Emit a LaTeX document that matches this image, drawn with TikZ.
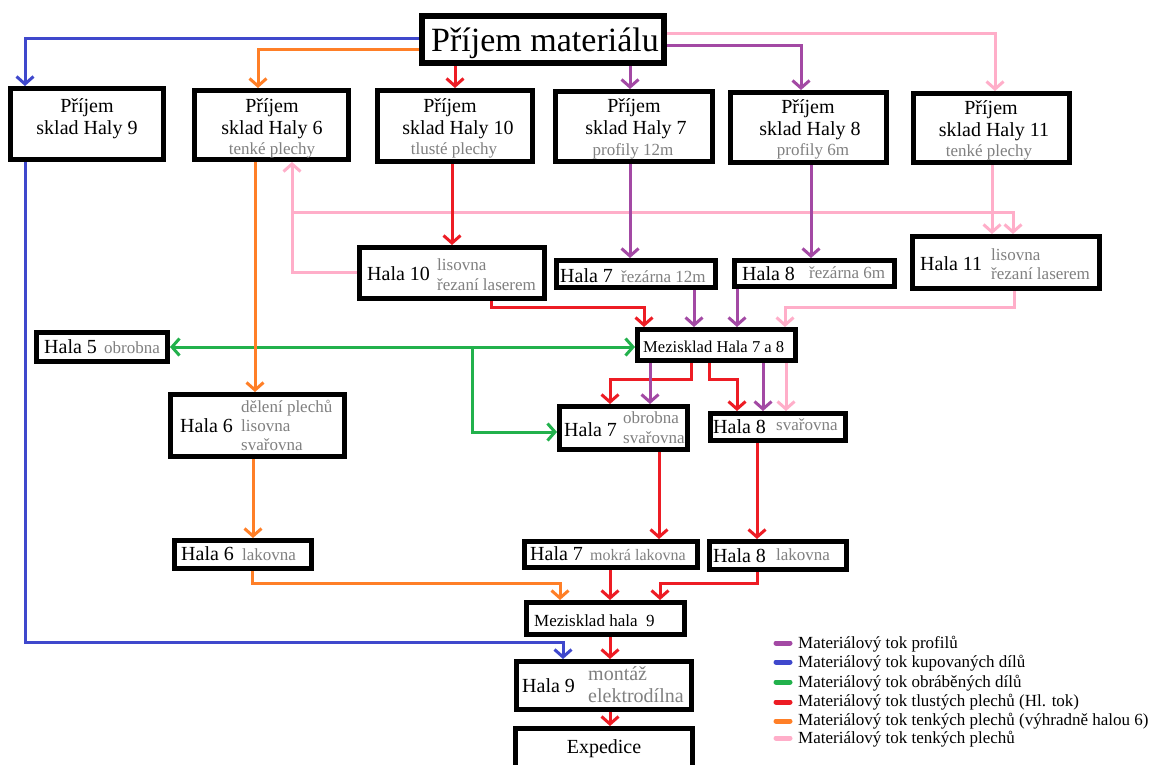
\documentclass[tikz,border=0pt]{standalone}
\usepackage{fontspec}
\setmainfont{Liberation Serif}
\usetikzlibrary{arrows.meta}

\definecolor{cblue}{RGB}{63,72,204}
\definecolor{corange}{RGB}{255,127,39}
\definecolor{cred}{RGB}{237,28,36}
\definecolor{cpurple}{RGB}{163,73,164}
\definecolor{cpink}{RGB}{255,174,201}
\definecolor{cgreen}{RGB}{34,177,76}
\definecolor{subgray}{RGB}{128,128,128}

\tikzset{
  hall/.style={draw=black, fill=white, line width=5pt, inner sep=0pt},
  maintxt/.style={inner sep=0pt, anchor=base west, font=\fontsize{20}{24}\selectfont},
  maincen/.style={maintxt, anchor=base},
  subtxt/.style={inner sep=0pt, anchor=base west, text=subgray, font=\fontsize{17}{20}\selectfont},
  subcen/.style={subtxt, anchor=base},
  midtxt/.style={inner sep=0pt, anchor=base west, font=\fontsize{16.6}{19}\selectfont},
  legtxt/.style={inner sep=0pt, anchor=base west, font=\fontsize{17}{20}\selectfont},
  flow/.style={line width=3pt, -{Straight Barb[length=7.5pt,width=17pt]}},
  legline/.style={line width=5pt, line cap=round},
}

% box given by outer edges: name, left, top, right, bottom
\newcommand\hallbox[5]{%
  \node[hall, minimum width={#4-#2-5}, minimum height={#5-#3-5}] (#1)
    at ({(#2+#4)/2},{(#3+#5)/2}) {};}

\begin{document}
\begin{tikzpicture}[x=1pt, y=-1pt]
\useasboundingbox (0,0) rectangle (1158,764);
\clip (0,0) rectangle (1158,764);
\fill[white] (0,0) rectangle (1158,764);

% ---------- boxes ----------
\node[hall, line width=6pt, minimum width=242pt, minimum height=47pt] (title) at (543,39.5) {};
\hallbox{haly9}{8}{86}{166}{162}
\hallbox{haly6}{192}{88}{351}{162}
\hallbox{haly10}{375}{88}{535}{164}
\hallbox{haly7}{553}{89}{715}{164}
\hallbox{haly8}{728}{90}{889}{165}
\hallbox{haly11}{911}{91}{1072}{165}

\hallbox{hala10}{357}{245}{547}{301}
\hallbox{hala7r}{554}{258}{718}{290}
\hallbox{hala8r}{732}{258}{897}{289}
\hallbox{hala11}{910}{234}{1102}{291}

\hallbox{mez78}{635}{327}{798}{363}
\hallbox{hala5}{34}{330}{170}{364}

\hallbox{hala6}{168}{392}{347}{459}
\hallbox{hala7o}{557}{404}{690}{452}
\hallbox{hala8s}{708}{411}{848}{443}

\hallbox{hala6l}{172}{538}{314}{571}
\hallbox{hala7l}{522}{539}{700}{570}
\hallbox{hala8l}{707}{539}{849}{572}

\hallbox{mez9}{524}{600}{687}{637}
\hallbox{hala9}{514}{659}{694}{712}
\hallbox{exped}{513}{726}{695}{790}

% ---------- texts ----------
\node[inner sep=0pt, anchor=base, font=\fontsize{34}{40}\selectfont] (ttl) at (545,51) {Příjem materiálu};

\node[maincen] (h9a) at (87,112) {Příjem};
\node[maincen] (h9b) at (87,134) {sklad Haly 9};

\node[maincen] (h6a) at (272,112) {Příjem};
\node[maincen] (h6b) at (272,134) {sklad Haly 6};
\node[subcen] (h6c) at (272,154) {tenké plechy};

\node[maincen] (h10a) at (450,112) {Příjem};
\node[maincen] (h10b) at (458,134) {sklad Haly 10};
\node[subcen] (h10c) at (454,154) {tlusté plechy};

\node[maincen] (h7a) at (634,112) {Příjem};
\node[maincen] (h7b) at (636,134) {sklad Haly 7};
\node[subcen] (h7c) at (633,155) {profily 12m};

\node[maincen] (h8a) at (808,113) {Příjem};
\node[maincen] (h8b) at (810,135) {sklad Haly 8};
\node[subcen] (h8c) at (813,155) {profily 6m};

\node[maincen] (h11a) at (991,114) {Příjem};
\node[maincen] (h11b) at (994,136) {sklad Haly 11};
\node[subcen] (h11c) at (989,156) {tenké plechy};

\node[maintxt] (l10a) at (367,280) {Hala 10};
\node[subtxt] (l10b) at (437,270) {lisovna};
\node[subtxt] (l10c) at (437,290) {řezaní laserem};

\node[maintxt] (l7ra) at (560,282) {Hala 7};
\node[subtxt] (l7rb) at (621,282) {řezárna 12m};

\node[maintxt] (l8ra) at (742,280) {Hala 8};
\node[subtxt] (l8rb) at (809,278) {řezárna 6m};

\node[maintxt] (l11a) at (920,270) {Hala 11};
\node[subtxt] (l11b) at (991,260) {lisovna};
\node[subtxt] (l11c) at (991,279) {řezaní laserem};

\node[midtxt] (m78) at (643,352) {Mezisklad Hala 7 a 8};

\node[maintxt] (l5a) at (44,353) {Hala 5};
\node[subtxt] (l5b) at (104,353) {obrobna};

\node[maintxt] (l6a) at (180,432) {Hala 6};
\node[subtxt] (l6b) at (241,412) {dělení plechů};
\node[subtxt] (l6c) at (241,431) {lisovna};
\node[subtxt] (l6d) at (241,450) {svařovna};

\node[maintxt] (l7oa) at (564,436) {Hala 7};
\node[subtxt] (l7ob) at (623,423) {obrobna};
\node[subtxt] (l7oc) at (623,443) {svařovna};

\node[maintxt] (l8sa) at (713,433) {Hala 8};
\node[subtxt] (l8sb) at (776,430) {svařovna};

\node[maintxt] (l6la) at (181,560) {Hala 6};
\node[subtxt] (l6lb) at (242,560) {lakovna};

\node[maintxt] (l7la) at (530,560) {Hala 7};
\node[subtxt, font=\fontsize{16}{19}\selectfont] (l7lb) at (590,560) {mokrá lakovna};

\node[maintxt] (l8la) at (713,562) {Hala 8};
\node[subtxt] (l8lb) at (776,560) {lakovna};

\node[midtxt, font=\fontsize{17}{20}\selectfont] (m9) at (534,626) {Mezisklad hala\hspace{0.5em}9};

\node[maintxt] (l9a) at (522,692) {Hala 9};
\node[subtxt, font=\fontsize{20}{24}\selectfont] (l9b) at (588,680) {montáž};
\node[subtxt, font=\fontsize{20}{24}\selectfont] (l9c) at (588,702) {elektrodílna};

\node[maincen] (exp) at (604,753) {Expedice};

% ---------- flows ----------
% thin sheets (pink) go first, the other flows cross over them
\coordinate (pinkjoin) at (292,212);
\draw[flow, cpink] (title.east |- 0,33) -- (995,33) -- (haly11.north -| 995,0);
\draw[flow, cpink] (haly11.south -| 992,0) -- (hala11.north -| 992,0);
\draw[flow, cpink] (hala10.west |- 0,272) -- (292,272) -- (haly6.south -| 292,0);
\draw[flow, cpink] (pinkjoin) -- (1013,212) -- (hala11.north -| 1013,0);
\draw[flow, cpink] (hala11.south -| 1014,0) -- (1014,307) -- (785,307) -- (mez78.north -| 785,0);
\draw[flow, cpink] (mez78.south -| 786,0) -- (hala8s.north -| 786,0);

% machined parts (green)
\coordinate (greenjoin) at (472,347);
\draw[line width=3pt, cgreen, {Straight Barb[length=7.5pt,width=17pt]}-{Straight Barb[length=7.5pt,width=17pt]}]
  (hala5.east |- 0,347) -- (mez78.west |- 0,347);
\draw[flow, cgreen] (greenjoin) -- (472,432) -- (hala7o.west |- 0,432);

% purchased parts (blue)
\draw[flow, cblue] (title.west |- 0,38) -- (25,38) -- (haly9.north -| 25,0);
\draw[flow, cblue] (haly9.south -| 25,0) -- (25,642) -- (563,642) -- (hala9.north -| 563,0);

% thin sheets for hall 6 (orange)
\draw[flow, corange] (title.west |- 0,49) -- (258,49) -- (haly6.north -| 258,0);
\draw[flow, corange] (haly6.south -| 255,0) -- (hala6.north -| 255,0);
\draw[flow, corange] (hala6.south -| 253,0) -- (hala6l.north -| 253,0);
\draw[flow, corange] (hala6l.south -| 252,0) -- (252,583) -- (560,583) -- (mez9.north -| 560,0);

% thick sheets, main flow (red)
\draw[flow, cred] (title.south -| 455,0) -- (haly10.north -| 455,0);
\draw[flow, cred] (haly10.south -| 452,0) -- (hala10.north -| 452,0);
\draw[flow, cred] (hala10.south -| 491,0) -- (491,307) -- (644,307) -- (mez78.north -| 644,0);
\draw[flow, cred] (mez78.south -| 691,0) -- (691,379) -- (610,379) -- (hala7o.north -| 610,0);
\draw[flow, cred] (mez78.south -| 709,0) -- (709,379) -- (737,379) -- (hala8s.north -| 737,0);
\draw[flow, cred] (hala7o.south -| 659,0) -- (hala7l.north -| 659,0);
\draw[flow, cred] (hala8s.south -| 757,0) -- (hala8l.north -| 757,0);
\draw[flow, cred] (hala7l.south -| 610,0) -- (mez9.north -| 610,0);
\draw[flow, cred] (hala8l.south -| 757,0) -- (757,583) -- (660,583) -- (mez9.north -| 660,0);
\draw[flow, cred] (mez9.south -| 610,0) -- (hala9.north -| 610,0);
\draw[flow, cred] (hala9.south -| 610,0) -- (exped.north -| 610,0);

% profiles (purple)
\draw[flow, cpurple] (title.south -| 630,0) -- (haly7.north -| 630,0);
\draw[flow, cpurple] (title.east |- 0,45) -- (801,45) -- (haly8.north -| 801,0);
\draw[flow, cpurple] (haly7.south -| 630,0) -- (hala7r.north -| 630,0);
\draw[flow, cpurple] (haly8.south -| 811,0) -- (hala8r.north -| 811,0);
\draw[flow, cpurple] (hala7r.south -| 694,0) -- (mez78.north -| 694,0);
\draw[flow, cpurple] (hala8r.south -| 737,0) -- (mez78.north -| 737,0);
\draw[flow, cpurple] (mez78.south -| 650,0) -- (hala7o.north -| 650,0);
\draw[flow, cpurple] (mez78.south -| 763,0) -- (hala8s.north -| 763,0);

% ---------- legend ----------
\draw[legline, cpurple] (776,643) -- (790,643);
\draw[legline, cblue]   (776,662) -- (790,662);
\draw[legline, cgreen]  (776,682) -- (790,682);
\draw[legline, cred]    (776,702) -- (790,702);
\draw[legline, corange] (776,721) -- (790,721);
\draw[legline, cpink]   (776,738) -- (790,738);
\node[legtxt] (leg1) at (798,648) {Materiálový tok profilů};
\node[legtxt] (leg2) at (798,667) {Materiálový tok kupovaných dílů};
\node[legtxt] (leg3) at (798,687) {Materiálový tok obráběných dílů};
\node[legtxt] (leg4) at (798,706) {Materiálový tok tlustých plechů (Hl. tok)};
\node[legtxt] (leg5) at (798,725) {Materiálový tok tenkých plechů (výhradně halou 6)};
\node[legtxt] (leg6) at (798,743) {Materiálový tok tenkých plechů};
\end{tikzpicture}
\end{document}
